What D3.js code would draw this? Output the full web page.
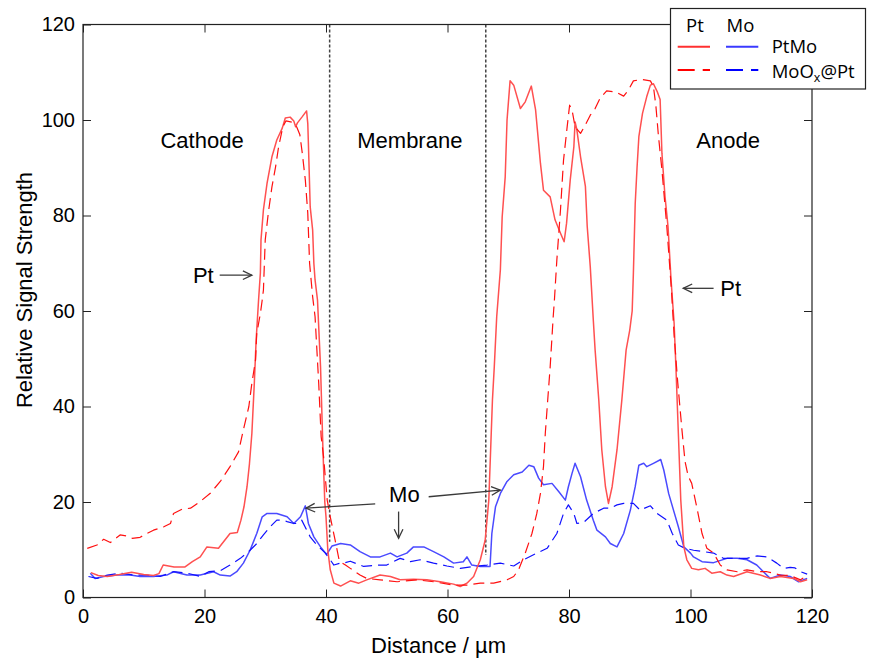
<!DOCTYPE html>
<html>
<head>
<meta charset="utf-8">
<script src="https://cdn.jsdelivr.net/npm/d3@7"></script>
<style>
  html, body { margin: 0; padding: 0; background: #fff; }
  svg { display: block; }
  text { font-family: "Liberation Sans", Arial, sans-serif; fill: #000; }
  .legend text { font-family: "Open Sans", "Liberation Sans", sans-serif; }
</style>
</head>
<body>
<svg id="chart" width="869" height="662"></svg>
<script>
// Line-scan profiles across the MEA (distance in µm, relative signal strength)

// PtMo sample – Pt signal
const ptmoPtX = [1.3,2.5,4,6,8,10,11.6,12.5,13.2,15,16.8,18,19.3,20.4,22.3,24.2,25.4,26,26.5,27,27.4,27.8,28.2,28.5,28.9,29.2,29.3,29.7,30.3,31.1,31.9,32.8,33.3,34.1,34.7,35.0,35.3,36.1,36.8,37.0,37.1,37.4,37.8,38.0,38.2,38.6,39.1,39.5,39.8,40.0,40.3,40.7,41.3,42.4,44.0,45.4,46.7,48.9,50.6,52.2,54.4,56.6,58.8,61.0,62.1,63.2,64.3,65.4,66.2,66.8,67.1,67.4,67.7,68.1,68.7,69.0,69.5,69.8,70.3,70.9,72.0,72.8,73.8,74.5,75.0,75.3,75.8,76.9,77.7,78.6,79.2,79.6,80.2,80.8,81.0,81.3,81.9,82.7,83.0,83.5,84.0,84.3,84.9,85.4,86.0,86.5,87.1,87.9,88.7,89.4,90.0,90.4,90.6,90.9,91.2,91.5,92.1,92.8,93.4,93.9,94.5,95.0,95.3,95.8,96.3,96.8,97.3,97.6,98.0,98.4,98.9,99.4,100.2,101.3,102.4,103.5,104.9,106.0,107.1,109.3,111.5,113.1,114.8,117.0,118.1,119.2];
const ptmoPtY = [5.2,4.6,4.4,4.8,5.3,4.8,4.6,5.0,6.8,6.4,6.4,7.5,8.5,10.6,10.3,13.4,13.6,16.2,19,23.2,28,34.4,44.9,53.9,62.3,68,74.9,81.2,86.8,92.3,95.8,98.3,100.4,100.6,99.8,98.6,99.4,100.7,101.9,99.3,95.2,81.8,77,70,66.5,62.3,48.3,30.9,20,16.9,9.9,5.8,3.0,2.4,3.5,3.0,3.7,4.7,4.4,3.7,3.8,3.7,3.3,2.8,2.3,3.0,4.4,7.9,12,20.4,30.9,41.4,48.3,58.8,68.6,79.7,88.1,100,108.2,107.3,102.4,103.8,107.1,102.1,95.1,90.9,85.3,83.9,79.1,76.3,74.5,78.4,87.4,94.4,99.6,97.9,92.3,86.1,77.7,69.3,58.1,51.8,41.4,30.9,23.2,19.7,23.2,30.9,41.4,51.8,56,60,68,82.5,90,96.5,101.4,104.9,107.3,107.6,106,104.3,93.0,84,77.7,66.5,57.5,48.3,34.4,20.4,10.6,7.9,6.1,5.8,6.1,5.1,5.4,4.7,4.4,5.4,4.7,4.0,4.4,4.0,3.3,3.7];

// MoOx@Pt sample – Pt signal
const moxPtX = [0.7,2.3,3.4,4.5,6.1,7.2,8.1,9.4,10.5,11.6,13.3,14.4,14.9,16.3,17.7,19.3,21.0,22.6,24.2,25.6,26.4,27.3,27.8,28.4,28.6,29.2,29.5,29.7,30.0,30.5,31.1,31.7,32.2,32.9,33.4,34.5,35.2,35.7,36.1,36.6,37.0,37.3,37.8,38.2,38.8,39.2,39.6,40.2,40.7,41.5,42.2,43.2,44.0,45.6,46.7,48.9,51.7,55.0,57.7,61.0,63.2,65.4,67.6,69.8,70.9,71.7,72.8,73.9,74.7,75.3,75.8,76.1,76.5,76.9,77.4,77.6,78.0,78.6,79.1,79.7,80.1,80.5,81.0,81.9,82.7,83.5,84.3,85.1,86.2,87.6,89.0,89.8,90.6,92.0,93.4,93.9,94.3,94.7,95.3,96.1,96.9,97.3,97.9,98.6,99.1,99.6,100.2,101.1,101.9,102.7,103.8,104.9,106.0,107.7,109.3,110.9,112.6,114.8,116.4,118.1,119.2];
const moxPtY = [10.3,11.0,12.2,11.5,13.1,12.9,12.4,12.6,13.4,14.1,14.8,15.5,17.6,18.5,18.7,20.1,21.9,24.3,27.4,30.5,35.1,40.0,44.9,49.7,55.3,59.5,62.3,64.4,74.9,80.5,86.0,90.2,94.4,98.6,99.8,99.5,98.5,96.9,93.0,87.4,80.5,70.0,63,58.8,44.9,33.7,29.5,20.4,16.9,12,7.6,6.8,6.1,4.7,4.0,3.7,3.3,3.7,3.3,2.6,2.6,3.0,3.0,3.7,4.4,5.8,9.3,13.4,17.6,21.8,27.4,34.4,41.4,48.3,58.8,62.3,70.7,81.2,91.6,98.6,103.1,102.1,98.6,97.2,99.0,101.0,102.4,104.5,106.1,105.9,105.0,106.3,108.2,108.5,108.2,107,103,97,89.5,77.7,63.7,55,45,35,28.5,25.5,23.9,18.5,13.4,10.3,9.3,6.8,5.8,5.4,5.8,5.4,5.4,4.7,4.6,3.7,4.6];

// PtMo sample – Mo signal
const ptmoMoX = [1.2,2.0,3.4,5.6,7.8,9.4,11.6,13.8,14.9,17.1,19.3,21.5,22.6,24.2,25.3,26.4,27.5,28.6,29.5,30.3,31.9,33.6,34.7,35.8,36.6,37.1,38.0,39.1,40.1,41.0,42.4,44.0,45.6,47.3,48.9,50.6,51.7,53.3,54.4,56.1,57.7,59.4,61.0,62.6,63.2,64.0,65.4,66.8,67.0,67.3,67.9,68.7,69.8,70.9,72.3,73.4,74.2,75.0,75.8,77.2,78.3,79.4,79.9,80.5,81.0,81.9,82.9,84.0,84.6,86.0,86.8,87.9,89.0,90.1,90.9,91.5,92.3,92.8,93.9,95.1,95.6,96.4,97.2,98.0,98.9,100.0,100.5,101.9,103.8,106.0,107.7,109.3,110.9,112.0,113.1,114.8,116.4,117.8,119.2];
const ptmoMoY = [5.1,4.0,4.4,4.7,4.7,4.4,4.4,4.7,5.4,4.7,4.7,5.4,4.7,4.5,5.4,7.2,9.9,13.4,16.9,17.6,17.6,16.9,15.5,16.9,19.2,15.5,12.7,10.6,9.0,10.8,11.3,11.0,9.6,8.5,8.5,9.3,8.5,9.3,10.6,10.6,9.6,8.5,7.2,7.5,8.5,6.8,6.5,6.5,6.5,13.4,19.0,21.8,24.3,25.7,26.3,27.7,27.4,25.0,23.6,23.9,22.2,20.4,23.2,26.0,28.1,25.3,20.4,16.2,14.1,12.7,11.3,10.6,13.4,18.3,23.2,27.7,28.1,27.4,28.1,28.9,26.7,21.8,18.3,14.8,10.6,9.3,8.5,7.5,7.3,8.2,8.2,7.9,6.8,5.4,4.0,4.7,4.4,3.3,4.0];

// MoOx@Pt sample – Mo signal
const moxMoX = [0.9,2.3,4.0,6.1,8.3,10.5,12.7,14.9,17.1,19.3,20.7,22.6,24.2,25.9,27.5,28.6,29.7,30.8,31.9,33.0,33.6,34.7,35.2,36.0,37.4,38.5,39.9,41.3,42.4,42.9,44.0,46.2,48.4,50.0,52.2,53.9,55.5,57.7,59.9,62.1,64.3,66.5,68.7,70.9,72.5,74.7,76.4,78.0,79.1,79.9,80.8,81.3,82.4,84.0,85.7,86.8,87.9,89.0,90.6,91.7,93.4,94.5,96.1,97.0,98.0,99.1,100.5,102.2,103.8,105.4,107.7,109.3,110.9,112.6,114.2,115.3,116.4,117.2,118.1,119.2];
const moxMoY = [4.4,4.0,4.7,5.1,4.7,4.7,4.4,5.4,5.1,4.4,5.4,5.6,6.8,8.2,9.9,11.3,13.1,14.8,16.2,16.2,15.9,15.5,15.5,16.2,12.7,11.0,9.3,6.8,7.2,7.2,7.6,6.5,6.8,6.8,8.2,7.5,7.9,7.2,6.6,6.1,6.5,6.8,7.2,6.6,7.9,9.3,10.3,13.4,17.6,19.4,17.6,15.5,15.7,17.6,18.7,18.7,19.4,19.7,19.7,18.3,19.2,17.6,16.2,13.4,11.0,10.3,9.9,9.6,9.3,8.2,8.2,8.2,8.7,8.5,7.2,6.1,6.3,6.2,5.4,4.9];

// Axis ticks
const xTicks = [0, 20, 40, 60, 80, 100, 120];
const yTicks = [0, 20, 40, 60, 80, 100, 120];

// Layer boundaries (µm) and where each dotted divider stops
const boundaryX = [40.6, 66.3];
const boundaryBottom = [11.7, 8.9];

// Region labels
const regionNames = ["Cathode", "Membrane", "Anode"];
const regionX = [19.6, 53.8, 106.2];
const regionY = [94.1, 94.1, 94.1];

// Legend entries
const seriesNames = ["PtMo", "MoOx@Pt"];
const elementNames = ["Pt", "Mo"];

const svg = d3.select("#chart");
const plotL = 83, plotR = 812, plotT = 24.5, plotB = 597.5;

const x = d3.scaleLinear().domain([0, 120]).range([plotL, plotR]);
const y = d3.scaleLinear().domain([0, 120]).range([plotB, plotT]);

const zip = (xs, ys) => xs.map((v, i) => [v, ys[i]]);
const line = d3.line().x(d => x(d[0])).y(d => y(d[1]));

// dotted layer dividers
svg.append("g").selectAll("line").data(boundaryX).join("line")
  .attr("x1", d => x(d)).attr("x2", d => x(d))
  .attr("y1", y(120)).attr("y2", (d, i) => y(boundaryBottom[i]))
  .attr("stroke", "#444").attr("stroke-width", 1.5)
  .attr("stroke-dasharray", "3,2");

// curves
const curves = [
  { pts: zip(ptmoMoX, ptmoMoY), color: "#4a4aff", width: 1.5, dash: null },
  { pts: zip(moxMoX, moxMoY), color: "#1010ff", width: 1.2, dash: "11,6" },
  { pts: zip(ptmoPtX, ptmoPtY), color: "#ff5050", width: 1.5, dash: null },
  { pts: zip(moxPtX, moxPtY), color: "#ff1010", width: 1.2, dash: "11,6" }
];
svg.append("g").selectAll("path").data(curves).join("path")
  .attr("d", d => line(d.pts))
  .attr("fill", "none")
  .attr("stroke", d => d.color)
  .attr("stroke-width", d => d.width)
  .attr("stroke-linejoin", "round")
  .attr("stroke-dasharray", d => d.dash);

// axes box with inward ticks
const axG = svg.append("g");
axG.append("g").attr("transform", `translate(0,${plotB})`)
  .call(d3.axisBottom(x).tickValues(xTicks).tickSizeInner(-8).tickSizeOuter(0).tickPadding(11.3));
axG.append("g").attr("transform", `translate(0,${plotT})`)
  .call(d3.axisTop(x).tickValues(xTicks).tickSizeInner(-8).tickSizeOuter(0).tickFormat(""));
axG.append("g").attr("transform", `translate(${plotL},0)`)
  .call(d3.axisLeft(y).tickValues(yTicks).tickSizeInner(-8).tickSizeOuter(0).tickPadding(8));
axG.append("g").attr("transform", `translate(${plotR},0)`)
  .call(d3.axisRight(y).tickValues(yTicks).tickSizeInner(-8).tickSizeOuter(0).tickFormat(""));
axG.selectAll(".domain").remove();
axG.selectAll(".tick line").attr("stroke", "#222");
axG.selectAll(".tick text").attr("font-size", 20).attr("fill", "#000")
  .style("font-family", "'Liberation Sans', Arial, sans-serif");
axG.append("rect").attr("x", plotL).attr("y", plotT)
  .attr("width", plotR - plotL).attr("height", plotB - plotT)
  .attr("fill", "none").attr("stroke", "#222").attr("stroke-width", 1.2);

// axis titles
svg.append("text").attr("x", (plotL + plotR) / 2 - 9).attr("y", 653)
  .attr("text-anchor", "middle").attr("font-size", 22).text("Distance / µm");
svg.append("text").attr("transform", "translate(32,290) rotate(-90)")
  .attr("text-anchor", "middle").attr("font-size", 22).text("Relative Signal Strength");

// region labels
svg.append("g").selectAll("text").data(regionNames).join("text")
  .attr("x", (d, i) => x(regionX[i])).attr("y", (d, i) => y(regionY[i]))
  .attr("text-anchor", "middle").attr("font-size", 22).text(d => d);

// annotation arrows (data coordinates: from -> to)
const arrows = [
  { from: [22.5, 67.5], to: [27.8, 67.5] },
  { from: [103.8, 64.75], to: [98.8, 64.75] },
  { from: [48.1, 19.6], to: [36.7, 18.7] },
  { from: [51.95, 18.0], to: [51.95, 12.4] },
  { from: [56.9, 21.1], to: [68.7, 22.5] }
];
const arrowG = svg.append("g").attr("stroke", "#3a3a3a").attr("fill", "none").attr("stroke-width", 1.3);
arrows.forEach(a => {
  const x1 = x(a.from[0]), y1 = y(a.from[1]), x2 = x(a.to[0]), y2 = y(a.to[1]);
  arrowG.append("line").attr("x1", x1).attr("y1", y1).attr("x2", x2).attr("y2", y2);
  const ang = Math.atan2(y2 - y1, x2 - x1), L = 10, spread = 0.45;
  const p1 = [x2 - L * Math.cos(ang - spread), y2 - L * Math.sin(ang - spread)];
  const p2 = [x2 - L * Math.cos(ang + spread), y2 - L * Math.sin(ang + spread)];
  arrowG.append("polyline").attr("points", `${p1} ${x2},${y2} ${p2}`);
});

// annotation labels
const notes = [
  { text: "Pt", at: [19.8, 65.9], anchor: "middle" },
  { text: "Pt", at: [104.9, 63.1], anchor: "start" },
  { text: "Mo", at: [52.9, 20.1], anchor: "middle" }
];
svg.append("g").selectAll("text").data(notes).join("text")
  .attr("x", d => x(d.at[0])).attr("y", d => y(d.at[1]))
  .attr("text-anchor", d => d.anchor).attr("font-size", 22).text(d => d.text);

// legend
const lg = svg.append("g").attr("class", "legend");
lg.append("rect").attr("x", 670.5).attr("y", 8.5).attr("width", 195).attr("height", 80.5)
  .attr("fill", "#fff").attr("stroke", "#222").attr("stroke-width", 1.2);
lg.append("text").attr("x", 686).attr("y", 31.7).attr("font-size", 18.5).text(elementNames[0]);
lg.append("text").attr("x", 726.5).attr("y", 31.7).attr("font-size", 18.5).text(elementNames[1]);
const rowsY = [46.7, 70];
const legendColors = [["#ff3030", "#3a3aff"], ["#ff0000", "#0000ff"]];
seriesNames.forEach((s, r) => {
  const dash = r === 0 ? null : "17,8";
  lg.append("line").attr("x1", 677.7).attr("x2", 710).attr("y1", rowsY[r]).attr("y2", rowsY[r])
    .attr("stroke", legendColors[r][0]).attr("stroke-width", 2).attr("stroke-dasharray", dash);
  lg.append("line").attr("x1", 726).attr("x2", 758.3).attr("y1", rowsY[r]).attr("y2", rowsY[r])
    .attr("stroke", legendColors[r][1]).attr("stroke-width", 2).attr("stroke-dasharray", dash);
});
lg.append("text").attr("x", 771.7).attr("y", 53.3).attr("font-size", 18.5).text(seriesNames[0]);
const t2 = lg.append("text").attr("x", 771.7).attr("y", 78.3).attr("font-size", 18.5);
t2.append("tspan").text("MoO");
t2.append("tspan").attr("font-size", 12.5).attr("dy", 4).text("x");
t2.append("tspan").attr("dy", -4).text("@Pt");
</script>
</body>
</html>
